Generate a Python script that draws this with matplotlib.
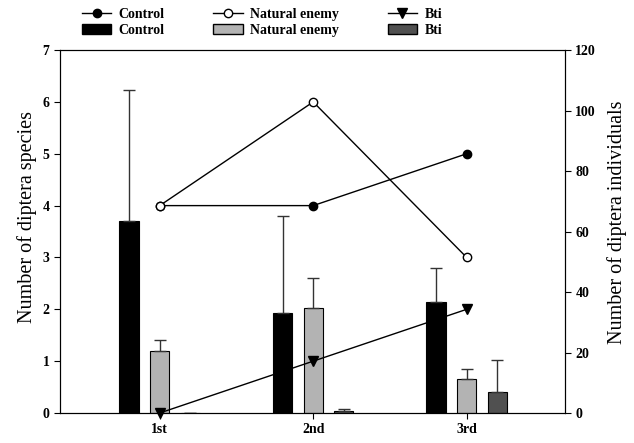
import matplotlib.pyplot as plt
import numpy as np
from matplotlib.lines import Line2D
from matplotlib.patches import Patch

plt.rcParams['font.family'] = 'Liberation Serif'

times = ['1st', '2nd', '3rd']

# species counts (left axis, lines)
sp_control = [4, 4, 5]
sp_enemy = [4, 6, 3]
sp_bti = [0, 1, 2]

# individuals (right axis, bars) with upper error
ind_control = [63.6, 33.0, 36.8]
err_control = [43.2, 32.3, 11.2]
ind_enemy = [20.6, 34.8, 11.1]
err_enemy = [3.5, 9.9, 3.5]
ind_bti = [0.0, 0.6, 7.0]
err_bti = [0.0, 0.6, 10.6]

x = np.arange(1, len(times) + 1)
w = 0.125

fig = plt.figure(figsize=(6.34, 4.43), dpi=100)
ax = fig.add_axes([0.0946, 0.0677, 0.7964, 0.8193])
ax2 = ax.twinx()
ax.set_zorder(ax2.get_zorder() + 1)
ax.patch.set_visible(False)

ekw = dict(ecolor='#333333', elinewidth=1, capsize=4, capthick=1)
ax2.bar(x - 0.2, ind_control, w, color='black', edgecolor='black', linewidth=0.8,
        yerr=[np.zeros(3), err_control], error_kw=ekw)
ax2.bar(x, ind_enemy, w, color='#b3b3b3', edgecolor='black', linewidth=0.8,
        yerr=[np.zeros(3), err_enemy], error_kw=ekw)
ax2.bar(x + 0.2, ind_bti, w, color='#505050', edgecolor='black', linewidth=0.8,
        yerr=[np.zeros(3), err_bti], error_kw=ekw)

ax.plot(x, sp_control, color='black', lw=1, marker='o', ms=6, mfc='black', mec='black')
ax.plot(x, sp_enemy, color='black', lw=1, marker='o', ms=6, mfc='white', mec='black')
ax.plot(x, sp_bti, color='black', lw=1, marker='v', ms=7, mfc='black', mec='black', clip_on=False)

ax.set_xlim(0.35, 3.64)
ax.set_ylim(0, 7)
ax2.set_ylim(0, 120)
ax.set_xticks(x)
ax.set_xticklabels(times)
ax.set_yticks(range(0, 8))
ax2.set_yticks(range(0, 121, 20))
for a in (ax, ax2):
    a.tick_params(labelsize=10, length=4, width=0.8)
    for lab in a.get_xticklabels() + a.get_yticklabels():
        lab.set_fontweight('bold')
ax.set_ylabel('Number of diptera species', fontsize=14.5)
ax2.set_ylabel('Number of diptera individuals', fontsize=14.5)
ax.yaxis.set_label_coords(-0.045, 0.54)
ax2.yaxis.set_label_coords(1.084, 0.525)

handles = [
    Line2D([], [], color='black', lw=1, marker='o', ms=6, mfc='black'),
    Patch(facecolor='black', edgecolor='black'),
    Line2D([], [], color='black', lw=1, marker='o', ms=6, mfc='white', mec='black'),
    Patch(facecolor='#b3b3b3', edgecolor='black'),
    Line2D([], [], color='black', lw=1, marker='v', ms=7, mfc='black'),
    Patch(facecolor='#505050', edgecolor='black'),
]
labels = ['Control', 'Control', 'Natural enemy', 'Natural enemy', 'Bti', 'Bti']
fig.legend(handles, labels, ncol=3, loc='upper left', bbox_to_anchor=(82 / 634, 0.982),
           frameon=False, prop={'size': 10, 'weight': 'bold'}, handlelength=2.1,
           columnspacing=3.5, labelspacing=0.2, handletextpad=0.55,
           borderpad=0, borderaxespad=0)

fig.savefig('out.png', dpi=100)
